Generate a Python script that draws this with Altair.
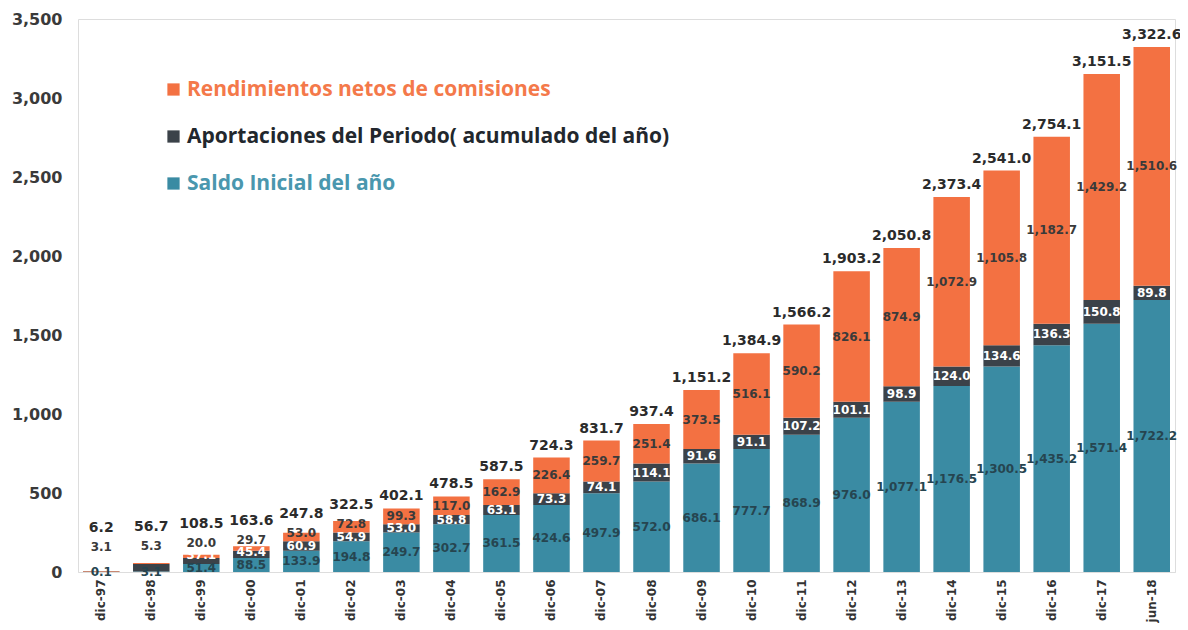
import altair as alt
import pandas as pd

cats = ["dic-97", "dic-98", "dic-99", "dic-00", "dic-01", "dic-02", "dic-03", "dic-04",
        "dic-05", "dic-06", "dic-07", "dic-08", "dic-09", "dic-10", "dic-11", "dic-12",
        "dic-13", "dic-14", "dic-15", "dic-16", "dic-17", "jun-18"]
saldo = [0.1, 3.1, 51.4, 88.5, 133.9, 194.8, 249.7, 302.7, 361.5, 424.6, 497.9, 572.0,
         686.1, 777.7, 868.9, 976.0, 1077.1, 1176.5, 1300.5, 1435.2, 1571.4, 1722.2]
aport = [3.0, 48.3, 37.1, 45.4, 60.9, 54.9, 53.0, 58.8, 63.1, 73.3, 74.1, 114.1,
         91.6, 91.1, 107.2, 101.1, 98.9, 124.0, 134.6, 136.3, 150.8, 89.8]
rend = [3.1, 5.3, 20.0, 29.7, 53.0, 72.8, 99.3, 117.0, 162.9, 226.4, 259.7, 251.4,
        373.5, 516.1, 590.2, 826.1, 874.9, 1072.9, 1105.8, 1182.7, 1429.2, 1510.6]
totals = [6.2, 56.7, 108.5, 163.6, 247.8, 322.5, 402.1, 478.5, 587.5, 724.3, 831.7, 937.4,
          1151.2, 1384.9, 1566.2, 1903.2, 2050.8, 2373.4, 2541.0, 2754.1, 3151.5, 3322.6]
y_ticks = [0, 500, 1000, 1500, 2000, 2500, 3000, 3500]

S_NAME = "Saldo Inicial del año"
A_NAME = "Aportaciones del Periodo( acumulado del año)"
R_NAME = "Rendimientos netos de comisiones"

ORANGE = "#F37142"
DARK = "#3B4249"
TEAL = "#3A8BA3"

GAP = 80  # minimum separation of segment labels, in data units
rows = []
tot_rows = []
for i, c in enumerate(cats):
    s, a, r = saldo[i], aport[i], rend[i]
    s_lab = s / 2
    a_lab = max(s + a / 2, s_lab + GAP)
    r_lab = max(s + a + r / 2, a_lab + GAP)
    rows.append(dict(cat=c, series=S_NAME, y0=0, y1=s, val=s, lab=s_lab))
    rows.append(dict(cat=c, series=A_NAME, y0=s, y1=s + a, val=a, lab=a_lab))
    rows.append(dict(cat=c, series=R_NAME, y0=s + a, y1=s + a + r, val=r, lab=r_lab))
    tot_rows.append(dict(cat=c, total=totals[i], lab=max(totals[i], r_lab + 45)))

df = pd.DataFrame(rows)
tdf = pd.DataFrame(tot_rows)

x_enc = alt.X("cat:N", sort=cats, title=None,
              scale=alt.Scale(paddingInner=0.27, paddingOuter=0.1),
              axis=alt.Axis(labelAngle=270, labelFont="DejaVu Sans", labelFontSize=12,
                            labelFontWeight="bold", labelColor="#333333", ticks=False,
                            domain=True, domainColor="#dddddd", labelPadding=7))
y_scale = alt.Scale(domain=[0, 3500], nice=False)

label_color_expr = (
    "datum.value == '" + R_NAME + "' ? '#F4794A' : "
    "datum.value == '" + S_NAME + "' ? '#4A97AE' : '#22272D'"
)

bars = alt.Chart(df).mark_bar().encode(
    x=x_enc,
    y=alt.Y("y0:Q", scale=y_scale, title=None,
            axis=alt.Axis(values=y_ticks, format=",d", grid=False, ticks=False, domain=False,
                          labelFont="DejaVu Sans", labelFontSize=16, labelFontWeight="bold",
                          labelColor="#3a3a3a", labelPadding=16)),
    y2="y1:Q",
    color=alt.Color("series:N",
                    scale=alt.Scale(domain=[R_NAME, A_NAME, S_NAME], range=[ORANGE, DARK, TEAL]),
                    legend=alt.Legend(title=None, orient="none", legendX=85, legendY=60,
                                      symbolType="square", symbolSize=150, symbolStrokeWidth=0,
                                      labelFont="Open Sans", labelFontSize=21,
                                      labelFontWeight="bold", labelColor={"expr": label_color_expr},
                                      rowPadding=25, labelLimit=700, labelOffset=3, padding=0)),
)

def seg_text(name, color):
    return alt.Chart(df).transform_filter(
        alt.datum.series == name
    ).mark_text(font="DejaVu Sans", fontSize=12, fontWeight="bold", color=color,
                baseline="middle", align="center").encode(
        x=alt.X("cat:N", sort=cats),
        y=alt.Y("lab:Q", scale=y_scale),
        text=alt.Text("val:Q", format=",.1f"),
    )

t_s = seg_text(S_NAME, "#264550")
t_a = seg_text(A_NAME, "#FFFFFF")
t_r = seg_text(R_NAME, "#3A3A3A")

t_tot = alt.Chart(tdf).mark_text(font="DejaVu Sans", fontSize=14, fontWeight="bold",
                                 color="#2B2B2B", baseline="bottom", align="center", dy=-5).encode(
    x=alt.X("cat:N", sort=cats),
    y=alt.Y("lab:Q", scale=y_scale),
    text=alt.Text("total:Q", format=",.1f"),
)

chart = alt.layer(bars, t_s, t_a, t_r, t_tot).properties(
    width=1097, height=553,
    autosize=alt.AutoSizeParams(type="none"),
    padding={"left": 70, "top": 11, "right": 5, "bottom": 54},
).configure_view(stroke=None).configure(background="white")

chart.save("out.html", embed_options={"renderer": "svg", "actions": False})
